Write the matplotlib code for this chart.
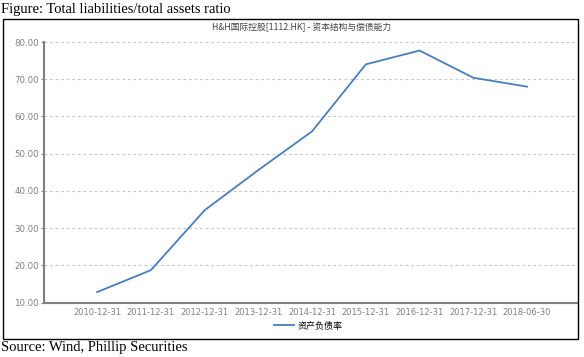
import matplotlib
matplotlib.use("Agg")
import matplotlib.pyplot as plt
from matplotlib.patches import Rectangle
from matplotlib.lines import Line2D

categories = ["2010-12-31", "2011-12-31", "2012-12-31", "2013-12-31", "2014-12-31",
              "2015-12-31", "2016-12-31", "2017-12-31", "2018-06-30"]
debt_ratio = [12.8, 18.7, 34.8, 45.6, 56.0, 74.0, 77.7, 70.4, 68.0]
y_ticks = [10, 20, 30, 40, 50, 60, 70, 80]
y_tick_labels = ["10.00", "20.00", "30.00", "40.00", "50.00", "60.00", "70.00", "80.00"]
series_name = "资产负债率"
chart_title = "H&H国际控股[1112.HK] - 资本结构与偿债能力"
fig_title = "Figure: Total liabilities/total assets ratio"
source = "Source: Wind, Phillip Securities"

W, H = 584, 357
fig = plt.figure(figsize=(W / 100, H / 100), dpi=100)
fig.patch.set_facecolor("white")

def fx(px):
    return px / W

def fy(py):
    return 1 - py / H

cjk = ["Noto Sans CJK SC", "DejaVu Sans"]
grey = "#808080"
line_color = "#4a7ebb"

# outer frame
fig.patches.append(Rectangle((fx(3), fy(338.5)), fx(578) - fx(3), fy(19) - fy(338.5),
                             transform=fig.transFigure, fill=False, edgecolor="black",
                             linewidth=1.0))

fig.text(fx(1), fy(10), fig_title, family="Liberation Serif", fontsize=10.5,
         ha="left", va="center", color="black")
fig.text(fx(1), fy(347), source, family="Liberation Serif", fontsize=10.5,
         ha="left", va="center", color="black")
fig.text(fx(302), fy(27), chart_title, family=cjk, fontsize=6.3,
         ha="center", va="center", color="#404040")

ax = fig.add_axes([fx(44), fy(302.5), fx(577) - fx(44), fy(42) - fy(302.5)])
x = list(range(len(categories)))
ax.plot(x, debt_ratio, color=line_color, linewidth=1.3, solid_joinstyle="round")

ax.set_xlim(-0.99, 8.93)
ax.set_ylim(10, 80)
ax.set_yticks(y_ticks)
ax.set_yticklabels(y_tick_labels)
ax.set_xticks(x)
ax.set_xticklabels(categories)

for s in ["top", "right"]:
    ax.spines[s].set_visible(False)
for s in ["left", "bottom"]:
    ax.spines[s].set_color(grey)
    ax.spines[s].set_linewidth(1.5)

ax.tick_params(axis="y", length=2.5, width=0.8, color=grey, labelcolor=grey,
               labelsize=6.2, pad=1)
ax.tick_params(axis="x", length=0, labelcolor=grey, labelsize=6.0, pad=4)
for lab in ax.get_xticklabels() + ax.get_yticklabels():
    lab.set_family("DejaVu Sans")

for yv in y_ticks[1:]:
    ax.axhline(yv, color="#c8c8c8", linewidth=0.8, linestyle=(0, (2.5, 2.5)), zorder=0)

handle = Line2D([], [], color=line_color, linewidth=1.3)
leg = fig.legend([handle], [series_name], loc="center", bbox_to_anchor=(fx(308), fy(326)),
                 frameon=False, prop={"family": cjk, "size": 6.5},
                 handlelength=2.2, handletextpad=0.4, borderpad=0)

fig.savefig("out.png", dpi=100, facecolor="white")
